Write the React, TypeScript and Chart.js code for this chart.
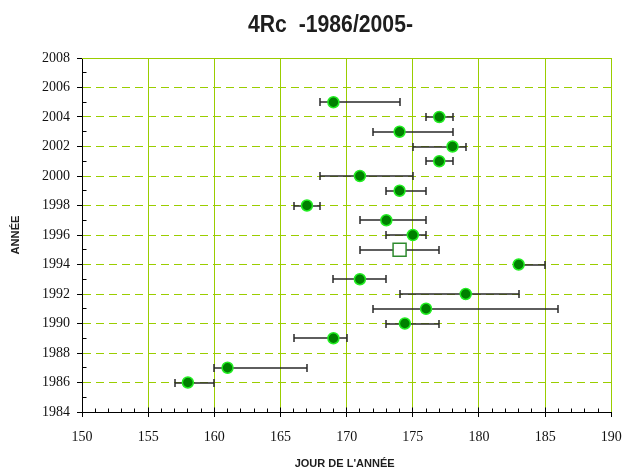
import React, { useEffect, useRef } from 'react';
import { Chart, registerables } from 'chart.js';

Chart.register(...registerables);

// ---- data ----
const years = [1986, 1987, 1989, 1990, 1991, 1992, 1993, 1994, 1995, 1996, 1997, 1998, 1999, 2000, 2001, 2002, 2003, 2004, 2005];
const days = [158, 161, 169, 174.4, 176, 179, 171, 183, 174, 175, 173, 167, 174, 171, 177, 178, 174, 177, 169];
const minDays = [157, 160, 166, 173, 172, 174, 169, 183, 171, 173, 171, 166, 173, 168, 176, 175, 172, 176, 168];
const maxDays = [160, 167, 170, 177, 186, 183, 173, 185, 177, 176, 176, 168, 176, 175, 178, 179, 178, 178, 174];
const estimatedYears = [1995];

const xRange = [150, 190];
const xStep = 5;
const yRange = [1984, 2008];
const yStep = 2;

const titleText = '4Rc  -1986/2005-';
const xTitle = "JOUR DE L'ANNÉE";
const yTitle = 'ANNÉE';

const GREEN = '#9acd00';
const SANS = '"Liberation Sans", Arial, sans-serif';
const SERIF = '"Liberation Serif", "DejaVu Serif", serif';

const align = (v: number) => Math.round(v - 0.5) + 0.5;

const errorBarPlugin = {
  id: 'errorBars',
  beforeDatasetsDraw(chart: any) {
    const { ctx, scales } = chart;
    const xs = scales.x;
    const ys = scales.y;
    ctx.save();
    // top frame line
    const top = align(chart.chartArea.top);
    ctx.strokeStyle = GREEN;
    ctx.lineWidth = 1;
    ctx.beginPath();
    ctx.moveTo(chart.chartArea.left, top);
    ctx.lineTo(chart.chartArea.right, top);
    ctx.stroke();

    // minor ticks
    ctx.strokeStyle = '#000';
    ctx.lineWidth = 1;
    const axisY = align(chart.chartArea.bottom);
    ctx.beginPath();
    for (let v = xRange[0] + 1; v < xRange[1]; v++) {
      const px = align(xs.getPixelForValue(v));
      const len = v % xStep === 0 ? 5 : 4;
      ctx.moveTo(px, axisY);
      ctx.lineTo(px, axisY - len);
    }
    const axisX = align(chart.chartArea.left);
    for (let v = yRange[0] + 1; v < yRange[1]; v += 2) {
      const py = align(ys.getPixelForValue(v));
      ctx.moveTo(axisX, py);
      ctx.lineTo(axisX + 4, py);
    }
    ctx.stroke();

    // error bars
    ctx.strokeStyle = '#2a2a2a';
    ctx.lineWidth = 1.5;
    ctx.beginPath();
    for (let i = 0; i < years.length; i++) {
      const py = Math.round(ys.getPixelForValue(years[i]));
      const x1 = Math.round(xs.getPixelForValue(minDays[i]));
      const x2 = Math.round(xs.getPixelForValue(maxDays[i]));
      ctx.moveTo(x1, py);
      ctx.lineTo(x2, py);
      ctx.moveTo(x1, py - 4);
      ctx.lineTo(x1, py + 4);
      ctx.moveTo(x2, py - 4);
      ctx.lineTo(x2, py + 4);
    }
    ctx.stroke();
    ctx.restore();
  },
};

// narrow (condensed) titles: the reference uses a narrow sans face
const textPlugin = {
  id: 'narrowTitles',
  afterDraw(chart: any) {
    const { ctx, chartArea } = chart;
    const draw = (text: string, font: string, cx: number, baseY: number, width: number, rot: number) => {
      ctx.save();
      ctx.font = font;
      const w = ctx.measureText(text).width;
      ctx.translate(cx, baseY);
      ctx.rotate(rot);
      ctx.scale(width / w, 1);
      ctx.textAlign = 'center';
      ctx.textBaseline = 'alphabetic';
      ctx.fillStyle = '#1e1e1e';
      ctx.fillText(text, 0, 0);
      ctx.restore();
    };
    draw(titleText, `bold 23px ${SANS}`, 330.5, 31.5, 165, 0);
    draw(xTitle, `bold 11px ${SANS}`, (chartArea.left + chartArea.right) / 2 - 2, 467, 100, 0);
    draw(yTitle, `bold 10.5px ${SANS}`, 19, (chartArea.top + chartArea.bottom) / 2, 39, -Math.PI / 2);
  },
};

export default function App() {
  const ref = useRef<HTMLCanvasElement>(null);

  useEffect(() => {
    if (!ref.current) return;
    const normal = years
      .map((y, i) => ({ x: days[i], y }))
      .filter((p) => !estimatedYears.includes(p.y));
    const est = years
      .map((y, i) => ({ x: days[i], y }))
      .filter((p) => estimatedYears.includes(p.y));

    const chart = new Chart(ref.current, {
      type: 'scatter',
      data: {
        datasets: [
          {
            data: normal,
            pointRadius: 5.5,
            pointHoverRadius: 5.5,
            pointBackgroundColor: '#008000',
            pointBorderColor: '#22ee22',
            pointBorderWidth: 1.5,
            showLine: false,
          },
          {
            data: est,
            pointStyle: 'rect',
            pointRadius: 9.2,
            pointHoverRadius: 9.2,
            pointBackgroundColor: '#ffffff',
            pointBorderColor: '#2e8b2e',
            pointBorderWidth: 1.5,
            showLine: false,
          },
        ],
      },
      options: {
        responsive: false,
        animation: false,
        events: [],
        layout: { padding: { left: 0, right: 0, top: 58, bottom: 0 } },
        plugins: {
          legend: { display: false },
          tooltip: { enabled: false },
          title: { display: false },
        },
        scales: {
          x: {
            type: 'linear',
            min: xRange[0],
            max: xRange[1],
            afterFit: (s: any) => {
              s.height = 56;
              s.paddingRight = 10;
              s.paddingLeft = 0;
            },
            ticks: {
              stepSize: xStep,
              color: '#111',
              padding: 12,
              font: { family: SERIF, size: 14 },
              callback: (v: any) => String(v),
            },
            grid: {
              color: (c: any) => (c.tick && c.tick.value === xRange[0] ? 'rgba(0,0,0,0)' : GREEN),
              lineWidth: 1,
              tickColor: '#000',
              tickLength: 5,
              tickBorderDash: [],
            },
            border: { color: '#000', width: 1 },
            title: { display: false },
          },
          y: {
            type: 'linear',
            min: yRange[0],
            max: yRange[1],
            afterFit: (s: any) => {
              s.width = 82;
              s.paddingTop = 0;
              s.paddingBottom = 0;
            },
            ticks: {
              stepSize: yStep,
              color: '#111',
              padding: 7,
              font: { family: SERIF, size: 14 },
              callback: (v: any) => String(v),
            },
            grid: {
              color: (c: any) =>
                c.tick && (c.tick.value === yRange[0] || c.tick.value === yRange[1]) ? 'rgba(0,0,0,0)' : GREEN,
              lineWidth: 1,
              tickColor: '#000',
              tickLength: 5,
              tickBorderDash: [],
            },
            border: { color: '#000', width: 1, dash: [8, 5] },
            title: { display: false },
          },
        },
      },
      plugins: [errorBarPlugin, textPlugin],
    } as any);
    return () => chart.destroy();
  }, []);

  return (
    <div style={{ position: 'fixed', left: 0, top: 0, width: 622, height: 468, background: '#fff' }}>
      <canvas ref={ref} width={622} height={468} />
    </div>
  );
}
